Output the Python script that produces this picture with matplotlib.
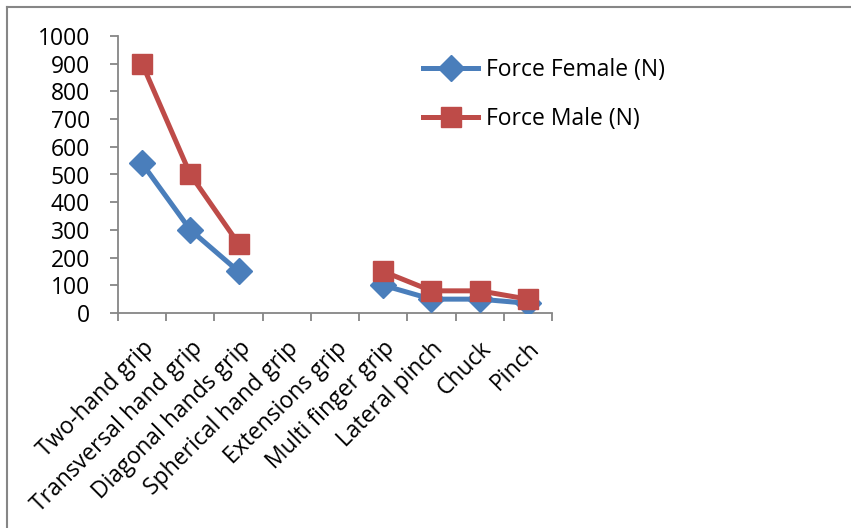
import matplotlib
matplotlib.use('Agg')
import matplotlib.pyplot as plt
from matplotlib.lines import Line2D
import numpy as np

categories = ['Two-hand grip', 'Transversal hand grip', 'Diagonal hands grip',
              'Spherical hand grip', 'Extensions grip', 'Multi finger grip',
              'Lateral pinch', 'Chuck', 'Pinch']
force_female = [540, 300, 150, np.nan, np.nan, 100, 50, 50, 35]
force_male = [900, 500, 250, np.nan, np.nan, 150, 80, 80, 50]
y_ticks = list(range(0, 1001, 100))

BLUE = '#4A7EBB'
RED = '#BE4B48'
GREY = '#868686'
FS = 16.5

plt.rcParams['font.family'] = ['Open Sans', 'DejaVu Sans']

W, H = 851, 528
fig = plt.figure(figsize=(W / 100, H / 100), dpi=100)
ax = fig.add_axes([118 / W, 1 - 313 / H, 434 / W, 277 / H])

x = np.arange(len(categories))
ax.plot(x, force_female, color=BLUE, lw=3.6, marker='D', ms=13,
        label='Force Female (N)', zorder=3)
ax.plot(x, force_male, color=RED, lw=3.6, marker='s', ms=14,
        label='Force Male (N)', zorder=4)

ax.set_xlim(-0.5, len(categories) - 0.5)
ax.set_ylim(0, 1000)
ax.set_yticks(y_ticks)
ax.set_yticklabels([str(v) for v in y_ticks], fontsize=FS)

# category labels centred on points, ticks between categories
ax.set_xticks(x)
ax.set_xticklabels(categories, rotation=45, ha='right', rotation_mode='anchor',
                   fontsize=FS)
ax.tick_params(axis='x', length=0, pad=17)
ax.set_xticks(np.arange(-0.5, len(categories)), minor=True)
ax.tick_params(axis='x', which='minor', length=6, color=GREY, width=1.3)
ax.tick_params(axis='y', length=6, color=GREY, width=1.3, pad=14)

for side in ('top', 'right'):
    ax.spines[side].set_visible(False)
for side in ('left', 'bottom'):
    ax.spines[side].set_color(GREY)
    ax.spines[side].set_linewidth(1.3)

fig.legend(loc='upper left', bbox_to_anchor=(414 / W, 1 - 49 / H),
           frameon=False, fontsize=FS, handlelength=2.4, labelspacing=1.1,
           handletextpad=0.35, borderaxespad=0)

# chart area border
fig.add_artist(Line2D([7 / W, 7 / W], [0, 1 - 7 / H], color=GREY, lw=1.5,
                      transform=fig.transFigure))
fig.add_artist(Line2D([7 / W, 1], [1 - 7 / H, 1 - 7 / H], color=GREY, lw=1.5,
                      transform=fig.transFigure))

fig.savefig('out.png', dpi=100)
